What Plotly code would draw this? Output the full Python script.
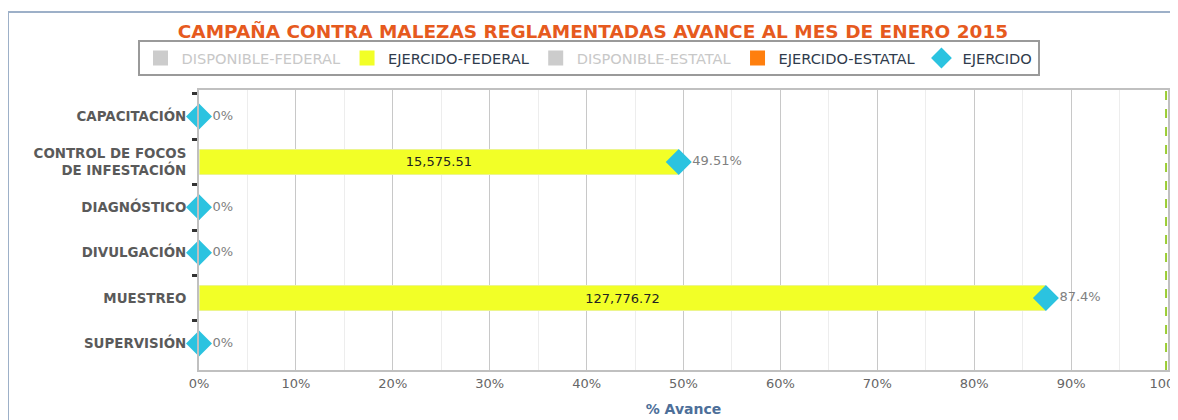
import plotly.graph_objects as go

categories = ["CAPACITACIÓN", "CONTROL DE FOCOS<br>DE INFESTACIÓN", "DIAGNÓSTICO",
              "DIVULGACIÓN", "MUESTREO", "SUPERVISIÓN"]
ejercido_federal_pct = [0, 49.51, 0, 0, 87.4, 0]
ejercido_federal_monto = [0, 15575.51, 0, 0, 127776.72, 0]
ejercido_estatal_pct = [0, 0, 0, 0, 0, 0]
disponible_federal_pct = [None] * 6
disponible_estatal_pct = [None] * 6
avance_pct = [0, 49.51, 0, 0, 87.4, 0]

FONT = "DejaVu Sans"

bar_text = [f"{v:,.2f}" if v > 0 else "" for v in ejercido_federal_monto]
avance_text = [f"{v:g}%" for v in avance_pct]

fig = go.Figure()
fig.add_trace(go.Bar(
    y=categories, x=disponible_federal_pct, orientation="h",
    marker_color="#CCCCCC", width=0.56, hoverinfo="skip", showlegend=False))
fig.add_trace(go.Bar(
    y=categories, x=ejercido_federal_pct, orientation="h",
    name="EJERCIDO-FEDERAL", marker_color="#F2FF27", width=0.56, showlegend=False,
    text=bar_text, textposition="inside", insidetextanchor="middle",
    textfont=dict(color="#222222", size=13, family=FONT), constraintext="none"))
fig.add_trace(go.Bar(
    y=categories, x=disponible_estatal_pct, orientation="h",
    marker_color="#CCCCCC", width=0.56, hoverinfo="skip", showlegend=False))
fig.add_trace(go.Bar(
    y=categories, x=ejercido_estatal_pct, orientation="h",
    name="EJERCIDO-ESTATAL", marker_color="#FF7F0E", width=0.56, showlegend=False))
fig.add_trace(go.Scatter(
    y=categories, x=avance_pct, mode="markers+text", name="EJERCIDO",
    marker=dict(symbol="diamond", size=20, color="#2BC3E0"),
    text=avance_text, textposition="middle right", showlegend=False,
    textfont=dict(color="#808080", size=13, family=FONT), cliponaxis=False))

# legend entries
legend_items = [
    ('<span style="color:#C8C8C8">DISPONIBLE-FEDERAL</span>', "square", "#CCCCCC"),
    ("EJERCIDO-FEDERAL", "square", "#F2FF27"),
    ('<span style="color:#C8C8C8">DISPONIBLE-ESTATAL</span>', "square", "#CCCCCC"),
    ("EJERCIDO-ESTATAL", "square", "#FF7F0E"),
    ("EJERCIDO", "diamond", "#2BC3E0"),
]
for name, sym, col in legend_items:
    fig.add_trace(go.Scatter(
        x=[None], y=[None], mode="markers", name=name,
        marker=dict(symbol=sym, size=15 if sym == "square" else 18, color=col)))

W, H = 1170, 412
L, R, T, B = 191, 10, 82, 50
PW, PH = W - L - R, H - T - B

fig.update_layout(
    width=W, height=H, barmode="stack",
    margin=dict(l=L, r=R, t=T, b=B),
    paper_bgcolor="white", plot_bgcolor="white",
    font=dict(family=FONT, color="#333333"),
    title=dict(text="<b>CAMPAÑA CONTRA MALEZAS REGLAMENTADAS AVANCE AL MES DE ENERO 2015</b>",
               x=0.5, xanchor="center", y=1 - 24 / H, yanchor="middle",
               font=dict(size=18.5, color="#E65A1E", family=FONT)),
    legend=dict(orientation="h", x=(580.5 - L) / PW, xanchor="center",
                y=(PH + T - 50) / PH, yanchor="middle",
                bordercolor="#9A9A9A", borderwidth=2, bgcolor="white",
                font=dict(size=14.6, color="#2F3B4C", family=FONT),
                itemwidth=32, traceorder="normal"),
    showlegend=True,
    xaxis=dict(range=[0, 100], dtick=10, ticksuffix="%", showgrid=True,
               gridcolor="#C8C8C8", gridwidth=1, automargin=False,
               ticklabeloverflow="allow",
               minor=dict(dtick=5, showgrid=True, gridcolor="#EDEDED"),
               showline=True, linecolor="#C0C0C0", linewidth=2, mirror=True,
               zeroline=False, ticks="",
               tickfont=dict(size=13, color="#666666", family=FONT),
               title=dict(text="<b>% Avance</b>", standoff=15,
                          font=dict(size=14, color="#4D6F99", family=FONT))),
    yaxis=dict(autorange="reversed", type="category", tickson="boundaries",
               ticks="outside", ticklen=5, tickwidth=3, tickcolor="#333333",
               showline=True, linecolor="#C0C0C0", linewidth=2, mirror=True,
               showgrid=False, zeroline=False, automargin=False,
               tickfont=dict(size=13.4, color="#5A5A5A", family=FONT, weight="bold"),
               ticklabelstandoff=8),
    shapes=[
        dict(type="line", xref="x", yref="paper", x0=99.8, x1=99.8, y0=0, y1=1,
             line=dict(color="#9ACD32", width=2, dash="dash")),
        dict(type="rect", xref="paper", yref="paper",
             x0=(0 - L) / PW, x1=(1166 - L) / PW,
             y0=(PH + T - 430) / PH, y1=(PH + T - 4) / PH,
             line=dict(color="#9DB0C8", width=2), fillcolor="rgba(0,0,0,0)",
             layer="below"),
    ],
)

fig.write_html("out.html")
